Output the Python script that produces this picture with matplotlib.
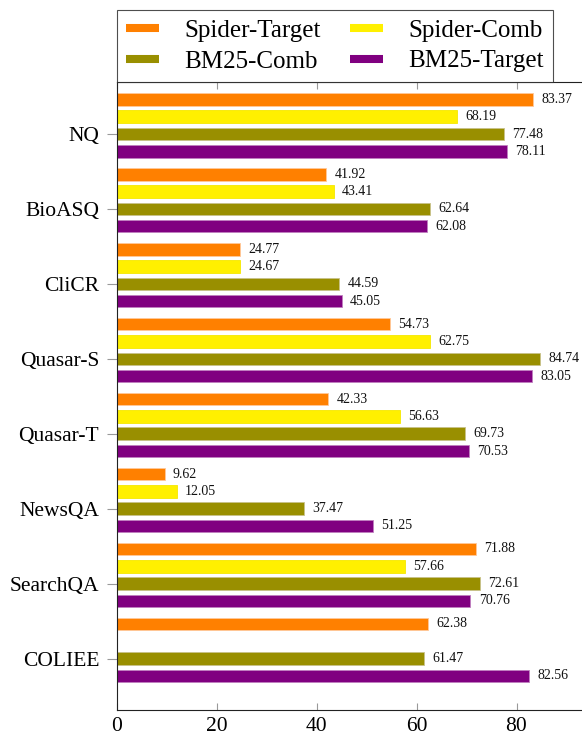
import matplotlib
matplotlib.use("Agg")
import matplotlib.pyplot as plt
from matplotlib.lines import Line2D
import numpy as np

plt.rcParams['font.family'] = ['Liberation Serif', 'DejaVu Serif']

categories = ["NQ", "BioASQ", "CliCR", "Quasar-S", "Quasar-T", "NewsQA", "SearchQA", "COLIEE"]
series_names = ["Spider-Target", "Spider-Comb", "BM25-Comb", "BM25-Target"]
spider_target = [83.37, 41.92, 24.77, 54.73, 42.33, 9.62, 71.88, 62.38]
spider_comb = [68.19, 43.41, 24.67, 62.75, 56.63, 12.05, 57.66, 0.0]
bm25_comb = [77.48, 62.64, 44.59, 84.74, 69.73, 37.47, 72.61, 61.47]
bm25_target = [78.11, 62.08, 45.05, 83.05, 70.53, 51.25, 70.76, 82.56]
xticks = [0, 20, 40, 60, 80]

colors = ["#FF8000", "#FFF000", "#998F00", "#800080"]
edges = ["#FFC89A", "#F5E800", "#C8C28A", "#C080C0"]
offsets = [-0.462, -0.231, 0.0, 0.231]
bar_h = 0.167

W, H = 582, 733
fig = plt.figure(figsize=(W / 100, H / 100), dpi=100)
left = 116.5 / W
bottom = 1 - 710 / H
top = 1 - 82 / H
ax = fig.add_axes([left, bottom, 500 / W, top - bottom])

y = np.arange(len(categories))
all_series = [spider_target, spider_comb, bm25_comb, bm25_target]
for vals, c, e, off, name in zip(all_series, colors, edges, offsets, series_names):
    ax.barh(y + off, vals, height=bar_h, color=c, edgecolor=e, linewidth=0.6, label=name)
    for yi, v in zip(y, vals):
        if v > 0:
            ax.annotate(f"{v:.2f}", xy=(v, yi + off), xytext=(6, 0), textcoords="offset points",
                        ha="left", va="center", fontsize=10, color="#111111")

ax.set_xlim(0, 100)
ax.set_ylim(7 + 0.687, -0.694)
ax.set_yticks(y)
ax.set_yticklabels(categories, fontsize=15.5)
ax.set_xticks(xticks)
ax.set_xticklabels([str(t) for t in xticks], fontsize=15.5)
ax.tick_params(axis="x", direction="in", length=5, width=0.8, color="#999999", top=True, bottom=True, pad=5)
ax.tick_params(axis="y", direction="out", length=7, width=0.8, color="#999999", pad=5.5)
for s in ["left", "top", "bottom"]:
    ax.spines[s].set_color("#222222")
    ax.spines[s].set_linewidth(0.8)
ax.spines["right"].set_visible(False)

handles = [Line2D([0], [0], color=c, lw=5.8, solid_capstyle="butt") for c in colors]
order = [0, 2, 1, 3]
leg = ax.legend([handles[i] for i in order], [series_names[i] for i in order], ncol=2,
                loc="lower left", bbox_to_anchor=(0, 1), borderaxespad=0, fontsize=18,
                frameon=True, fancybox=False, edgecolor="#222222", handlelength=1.32,
                handletextpad=1.0, columnspacing=1.2, labelspacing=0.32, borderpad=0.38)
leg.get_frame().set_linewidth(0.8)

fig.savefig("out.png", dpi=100)
